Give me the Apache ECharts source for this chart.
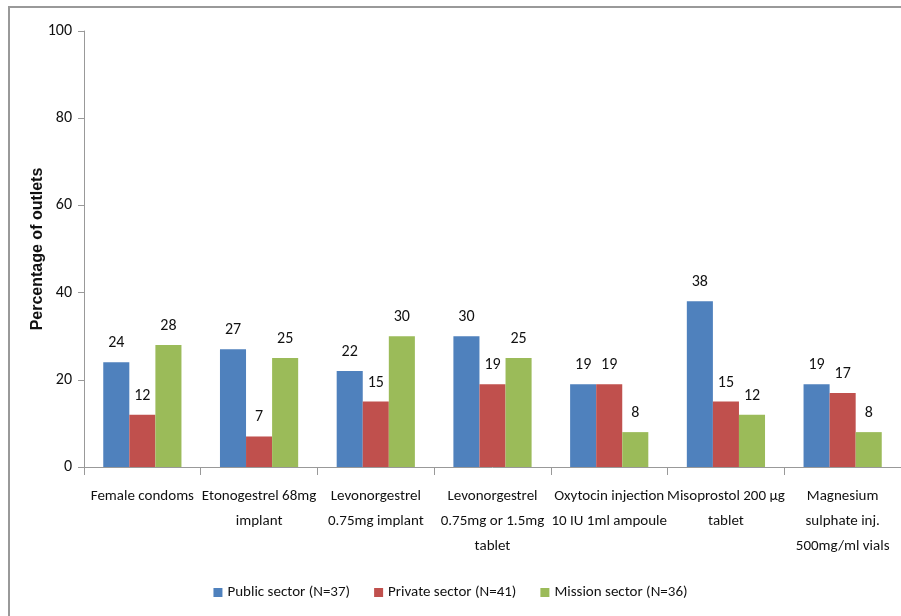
<!DOCTYPE html>
<html><head><meta charset="utf-8">
<script src="https://cdn.jsdelivr.net/npm/echarts@6/dist/echarts.min.js"></script>
<style>html,body{margin:0;padding:0;background:#fff}#c{width:901px;height:616px}</style>
</head><body><div id="c"></div>
<script>
const categories = ["Female condoms","Etonogestrel 68mg implant","Levonorgestrel 0.75mg implant","Levonorgestrel 0.75mg or 1.5mg tablet","Oxytocin injection 10 IU 1ml ampoule","Misoprostol 200 µg tablet","Magnesium sulphate inj. 500mg/ml vials"];
const tickLabels = ["Female condoms","Etonogestrel 68mg\nimplant","Levonorgestrel\n0.75mg implant","Levonorgestrel\n0.75mg or 1.5mg\ntablet","Oxytocin injection\n10 IU 1ml ampoule","Misoprostol 200 µg\ntablet","Magnesium\nsulphate inj.\n500mg/ml vials"];
const seriesNames = ["Public sector (N=37)","Private sector (N=41)","Mission sector (N=36)"];
const publicSector = [24,27,22,30,19,38,19];
const privateSector = [12,7,15,19,19,15,17];
const missionSector = [28,25,30,25,8,12,8];
const colors = ["#4F81BD","#C0504D","#9BBB59"];
const FONT = "Carlito, Lato, sans-serif";
const chart = echarts.init(document.getElementById('c'));
const mk = (name, data, color) => ({
  name, type:'bar', data, barGap:'0%', barCategoryGap:'33%',
  itemStyle:{color},
  label:{show:true, position:'top', distance:11, color:'#111', fontSize:16, fontFamily:FONT}
});
chart.setOption({
  animation:false,
  textStyle:{fontFamily:FONT},
  graphic:[{type:'rect', shape:{x:9,y:7,width:1000,height:1000}, style:{fill:'none', stroke:'#999', lineWidth:2}, silent:true, z:-1}],
  grid:{left:84,right:0,top:31,bottom:149,containLabel:false},
  legend:{bottom:11, left:'center', itemWidth:9, itemHeight:9, itemGap:24, icon:'rect',
    textStyle:{fontSize:15, color:'#111', fontFamily:FONT}, data:seriesNames},
  xAxis:{type:'category', data:categories,
    axisLine:{lineStyle:{color:'#999'}},
    axisTick:{show:true, length:8, lineStyle:{color:'#999'}},
    axisLabel:{interval:0, fontSize:15, color:'#111', lineHeight:25, margin:17, fontFamily:FONT,
      formatter:(v,i)=>tickLabels[i]}},
  yAxis:{type:'value', min:0, max:100, interval:20,
    name:'Percentage of outlets', nameLocation:'middle', nameGap:38, nameMoveOverlap:false,
    nameTextStyle:{fontSize:16, fontWeight:'bold', color:'#111', fontFamily:'Liberation Sans, sans-serif'},
    axisLine:{show:true, lineStyle:{color:'#999'}},
    axisTick:{show:true, length:6, lineStyle:{color:'#999'}},
    splitLine:{show:false},
    axisLabel:{fontSize:16, color:'#111', margin:12, fontFamily:FONT}},
  series:[mk(seriesNames[0],publicSector,colors[0]), mk(seriesNames[1],privateSector,colors[1]), mk(seriesNames[2],missionSector,colors[2])]
});
</script></body></html>
